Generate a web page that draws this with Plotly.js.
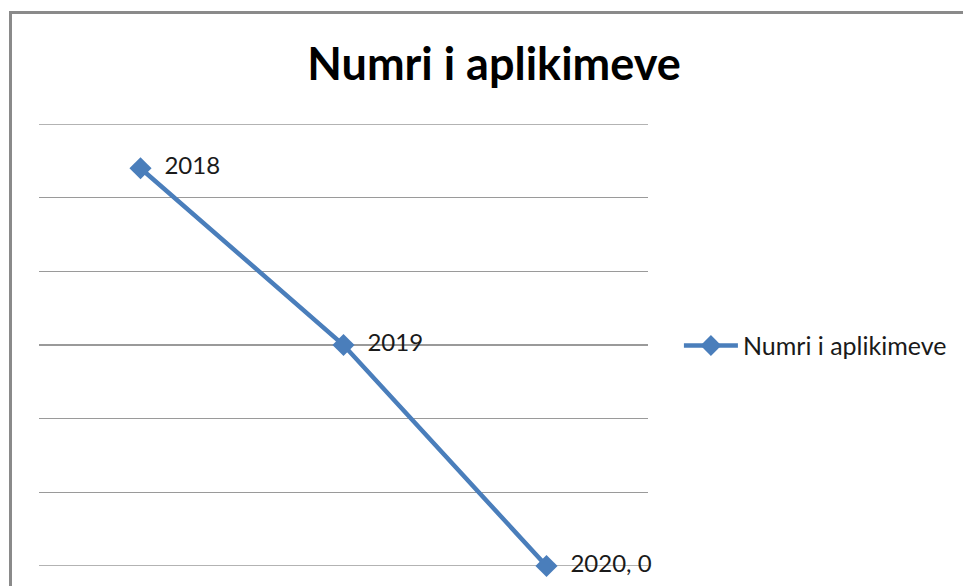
<!DOCTYPE html>
<html>
<head>
<meta charset="utf-8">
<script src="https://cdn.plot.ly/plotly-3.0.1.min.js"></script>
<style>
  html, body { margin:0; padding:0; background:#fff; overflow:hidden; }
  #wrap { position:relative; width:963px; height:586px; }
  #chart { position:absolute; left:0; top:0; width:963px; height:586px; }
  #frame { position:absolute; left:9px; top:11px; width:1000px; height:700px;
           border:3px solid #8a8a8a; box-sizing:border-box; pointer-events:none; }
</style>
</head>
<body>
<div id="wrap">
  <div id="chart"></div>
  <div id="frame"></div>
</div>
<script>
const categories = ["2018", "2019", "2020"];
const values = [5.4, 3, 0];
const pointLabels = ["2018", "2019", "2020, 0"];
const seriesName = "Numri i aplikimeve";
const chartTitle = "Numri i aplikimeve";

const trace = {
  x: categories,
  y: values,
  type: "scatter",
  mode: "lines+markers+text",
  name: seriesName,
  text: pointLabels.map(s => "  " + s),
  textposition: "middle right",
  textfont: { family: "Lato, 'Open Sans', sans-serif", size: 24, color: "#1a1a1a" },
  line: { color: "#4a7ebb", width: 4.5 },
  marker: { symbol: "diamond", size: 17, color: "#4a7ebb" },
  cliponaxis: false
};

const layout = {
  width: 963, height: 586,
  margin: { l: 39, r: 315, t: 124, b: 20 },
  paper_bgcolor: "#ffffff",
  plot_bgcolor: "#ffffff",
  title: {
    text: "<b>" + chartTitle + "</b>",
    font: { family: "Lato, 'Open Sans', sans-serif", size: 45, color: "#000" },
    x: 0.513, xanchor: "center", y: 0.89, yanchor: "middle"
  },
  xaxis: {
    type: "category",
    range: [-0.5, 2.5],
    showgrid: false, zeroline: false, showline: false,
    showticklabels: false, ticks: ""
  },
  yaxis: {
    range: [0, 6],
    dtick: 1,
    showgrid: true, gridcolor: "#9a9a9a", gridwidth: 1.5,
    zeroline: false, showline: false,
    showticklabels: false, ticks: ""
  },
  showlegend: true,
  legend: {
    xref: "container", yref: "container",
    x: 0.705, xanchor: "left", y: 0.41, yanchor: "middle",
    font: { family: "Lato, 'Open Sans', sans-serif", size: 25, color: "#1a1a1a" },
    itemwidth: 54,
    bgcolor: "rgba(0,0,0,0)"
  },
  shapes: [0, 6].map(v => ({
    type: "line", xref: "paper", yref: "y",
    x0: 0, x1: 1, y0: v, y1: v,
    line: { color: "#9a9a9a", width: 1.5 }, layer: "below"
  }))
};

Plotly.newPlot("chart", [trace], layout, { displayModeBar: false, staticPlot: true });
</script>
</body>
</html>
